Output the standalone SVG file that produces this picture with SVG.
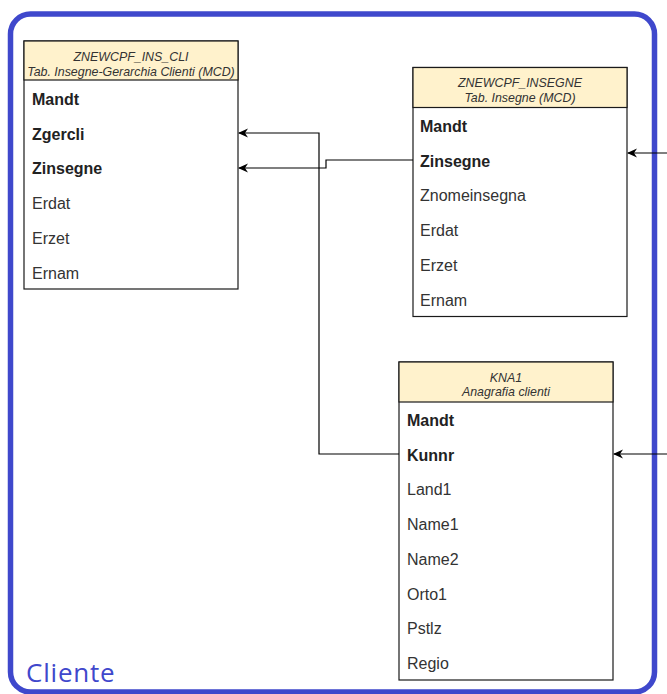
<svg xmlns="http://www.w3.org/2000/svg" width="667" height="694" viewBox="0 0 667 694">
  <defs>
    <marker id="arrow" viewBox="0 0 10 10" refX="9" refY="5" markerWidth="10" markerHeight="10" markerUnits="userSpaceOnUse" orient="auto">
      <path d="M0,0.5 L10,5 L0,9.5 L3,5 Z" fill="#000"/>
    </marker>
    <style>
      .frame { fill: none; stroke: #3f48cc; stroke-width: 5.5; }
      .frame-label { font-family: "Open Sans", "Noto Sans", sans-serif; font-size: 26px; fill: #3f48cc; letter-spacing: 0.8px; }
      .box { fill: #ffffff; stroke: #1a1a1a; stroke-width: 1.2; }
      .head { fill: #fff2cc; stroke: #1a1a1a; stroke-width: 1.2; }
      .title { font-family: "Liberation Sans", Arial, sans-serif; font-size: 12.4px; font-style: italic; fill: #333; text-anchor: middle; }
      .key { font-family: "Liberation Sans", Arial, sans-serif; font-size: 16px; font-weight: bold; fill: #222; }
      .field { font-family: "Liberation Sans", Arial, sans-serif; font-size: 16px; fill: #333; }
      .link { fill: none; stroke: #000; stroke-width: 1.2; marker-end: url(#arrow); }
    </style>
  </defs>

  <rect width="667" height="694" fill="#ffffff"/>

  <!-- Cliente container -->
  <g id="cliente">
    <rect class="frame" x="10.5" y="14" width="644" height="678" rx="20" ry="20"/>
    <text class="frame-label" x="26" y="682">Cliente</text>
  </g>

  <!-- ZNEWCPF_INS_CLI -->
  <g id="znewcpf_ins_cli">
    <rect class="box" x="24" y="41" width="214" height="248"/>
    <rect class="head" x="24" y="41" width="214" height="39"/>
    <text class="title" x="131" y="60.5">ZNEWCPF_INS_CLI</text>
    <text class="title" x="131" y="75.5">Tab. Insegne-Gerarchia Clienti (MCD)</text>
    <text class="key" x="32" y="105">Mandt</text>
    <text class="key" x="32" y="139.7">Zgercli</text>
    <text class="key" x="32" y="174.4">Zinsegne</text>
    <text class="field" x="32" y="209.1">Erdat</text>
    <text class="field" x="32" y="243.8">Erzet</text>
    <text class="field" x="32" y="278.5">Ernam</text>
  </g>

  <!-- ZNEWCPF_INSEGNE -->
  <g id="znewcpf_insegne">
    <rect class="box" x="413" y="67.5" width="214" height="249"/>
    <rect class="head" x="413" y="67.5" width="214" height="40"/>
    <text class="title" x="520" y="87">ZNEWCPF_INSEGNE</text>
    <text class="title" x="520" y="101.5">Tab. Insegne (MCD)</text>
    <text class="key" x="420" y="132">Mandt</text>
    <text class="key" x="420" y="166.7">Zinsegne</text>
    <text class="field" x="420" y="201.4">Znomeinsegna</text>
    <text class="field" x="420" y="236.1">Erdat</text>
    <text class="field" x="420" y="270.8">Erzet</text>
    <text class="field" x="420" y="305.5">Ernam</text>
  </g>

  <!-- KNA1 -->
  <g id="kna1">
    <rect class="box" x="399" y="362" width="214" height="318"/>
    <rect class="head" x="399" y="362" width="214" height="40"/>
    <text class="title" x="506" y="382">KNA1</text>
    <text class="title" x="506" y="396">Anagrafia clienti</text>
    <text class="key" x="407" y="426">Mandt</text>
    <text class="key" x="407" y="460.7">Kunnr</text>
    <text class="field" x="407" y="495.4">Land1</text>
    <text class="field" x="407" y="530.1">Name1</text>
    <text class="field" x="407" y="564.8">Name2</text>
    <text class="field" x="407" y="599.5">Orto1</text>
    <text class="field" x="407" y="634.2">Pstlz</text>
    <text class="field" x="407" y="668.9">Regio</text>
  </g>

  <!-- connectors -->
  <g id="connectors">
    <path class="link" d="M399,454 H319 V133 H239"/>
    <path class="link" d="M413,160 H326 V168 H239"/>
    <path class="link" d="M667,153 H628"/>
    <path class="link" d="M667,454 H614"/>
  </g>
</svg>
